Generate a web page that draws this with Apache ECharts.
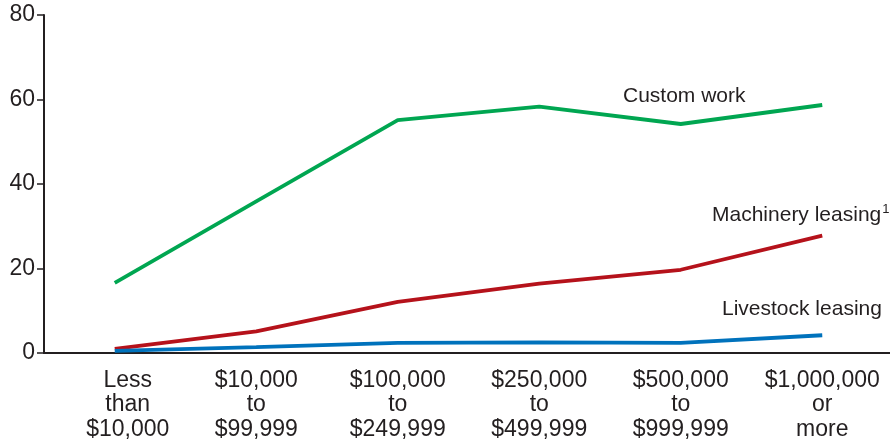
<!DOCTYPE html>
<html>
<head>
<meta charset="utf-8">
<script src="https://cdn.jsdelivr.net/npm/echarts@6/dist/echarts.min.js"></script>
<style>
html,body{margin:0;padding:0;background:#fff;}
#chart{width:890px;height:444px;}
</style>
</head>
<body>
<div id="chart"></div>
<script>
var categories = [
  "Less\nthan\n$10,000",
  "$10,000\nto\n$99,999",
  "$100,000\nto\n$249,999",
  "$250,000\nto\n$499,999",
  "$500,000\nto\n$999,999",
  "$1,000,000\nor\nmore"
];
var customWork = [16.6, 35.9, 55.1, 58.3, 54.2, 58.7];
var machineryLeasing = [1.0, 5.1, 12.1, 16.4, 19.7, 27.8];
var livestockLeasing = [0.5, 1.4, 2.4, 2.5, 2.4, 4.2];
var yTicks = [0, 20, 40, 60, 80];

var textColor = '#231f20';
var font = '"Liberation Sans", Arial, Helvetica, sans-serif';

var chart = echarts.init(document.getElementById('chart'), null, {renderer: 'canvas'});

function fmtCat(value, idx) {
  var lines = value.split('\n');
  var style = idx === 0 ? 'f' : 'n';
  return lines.map(function (l) { return '{' + style + '|' + l + '}'; }).join('\n');
}

chart.setOption({
  animation: false,
  backgroundColor: '#fff',
  grid: {left: 44, right: -3, top: 15, bottom: 91, containLabel: false, outerBoundsMode: 'none'},
  xAxis: {
    type: 'category',
    data: categories,
    boundaryGap: true,
    axisLine: {lineStyle: {color: textColor, width: 2}},
    axisTick: {alignWithLabel: true, length: 8, lineStyle: {color: '#555', width: 1}},
    axisLabel: {
      interval: 0,
      margin: 15,
      color: textColor,
      fontFamily: font,
      fontSize: 23,
      lineHeight: 24.5,
      formatter: fmtCat,
      rich: {
        n: {fontFamily: font, fontSize: 23, lineHeight: 24.5, color: textColor},
        f: {fontFamily: font, fontSize: 23, lineHeight: 24.5, color: textColor, padding: [0, 0, 0, 26]}
      }
    },
    splitLine: {show: false}
  },
  yAxis: {
    type: 'value',
    min: yTicks[0],
    max: yTicks[yTicks.length - 1],
    interval: yTicks[1] - yTicks[0],
    axisLine: {show: true, lineStyle: {color: textColor, width: 2}},
    axisTick: {show: true, length: 7, lineStyle: {color: textColor, width: 1.5}},
    axisLabel: {margin: 9, color: textColor, fontFamily: font, fontSize: 23},
    splitLine: {show: false}
  },
  series: [
    {name: 'Custom work', type: 'line', data: customWork, symbol: 'none',
     lineStyle: {color: '#00a651', width: 3.8}, itemStyle: {color: '#00a651'}},
    {name: 'Machinery leasing', type: 'line', data: machineryLeasing, symbol: 'none',
     lineStyle: {color: '#b5121b', width: 3.8}, itemStyle: {color: '#b5121b'}},
    {name: 'Livestock leasing', type: 'line', data: livestockLeasing, symbol: 'none',
     lineStyle: {color: '#0072bc', width: 3.8}, itemStyle: {color: '#0072bc'}}
  ],
  graphic: [
    {type: 'text', left: 623, top: 86, style: {text: 'Custom work', fill: textColor, font: '21px ' + font}},
    {type: 'text', left: 712, top: 203, style: {
      text: '{a|Machinery leasing}{s|1}',
      rich: {
        a: {fill: textColor, fontFamily: font, fontSize: 21, lineHeight: 24},
        s: {fill: textColor, fontFamily: font, fontSize: 13, lineHeight: 24, verticalAlign: 'top', padding: [0, 0, 10, 1]}
      }
    }},
    {type: 'text', left: 722, top: 299, style: {text: 'Livestock leasing', fill: textColor, font: '21px ' + font}}
  ]
});
</script>
</body>
</html>
